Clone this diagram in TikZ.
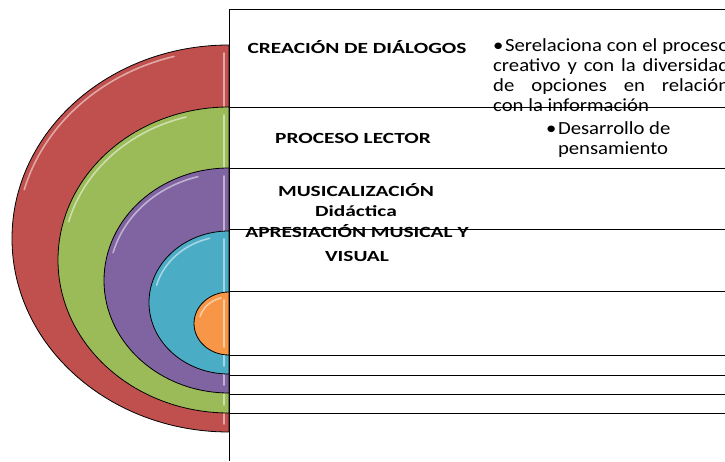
\documentclass[tikz,border=0pt]{standalone}
\usepackage{fontspec}
\setmainfont{Carlito}
\newfontfamily\headfont[FakeStretch=1.38]{Carlito}
\newfontfamily\notefont[FakeStretch=1.12]{Carlito}
\usepackage{xcolor}
\definecolor{ringred}{HTML}{C0504D}
\definecolor{ringgreen}{HTML}{9BBB59}
\definecolor{ringpurple}{HTML}{8064A2}
\definecolor{ringcyan}{HTML}{4BACC6}
\definecolor{ringorange}{HTML}{F79646}

\begin{document}
\begin{tikzpicture}[x=1pt,y=1pt,
    ring/.style={draw=black, line width=0.8pt},
    gloss/.style={draw=white, line width=1.6pt, opacity=0.5, line cap=round},
    rule/.style={draw=black, line width=0.9pt},
    title/.style={font=\headfont\bfseries\fontsize{15.5}{20}\selectfont, align=center, inner sep=0pt},
    note/.style={font=\notefont\fontsize{18.5}{20}\selectfont, inner sep=0pt}]
      % Variables
      \def \boxx  {229}
      \def \boxr  {725}
      \def \boxt  {452}

      \useasboundingbox (0,0) rectangle (725,461);

      % Rings
      \foreach \col/\cy/\rx/\ry in {ringred/222.5/217/193.5, ringgreen/201/171/153,
          ringpurple/180.5/125/112.5, ringcyan/158.5/80/71.5, ringorange/137.5/35/31.5}
      {
        \fill[\col, ring] (\boxx,\cy+\ry) arc[start angle=90, end angle=270, x radius=\rx, y radius=\ry] -- cycle;
        \draw[gloss] ({\boxx+(\rx-5)*cos(105)},{\cy+(\ry-5)*sin(105)})
          arc[start angle=105, end angle=165, x radius=\rx-5, y radius=\ry-5];
        \draw[gloss] (\boxx-5,\cy+\ry-8) -- (\boxx-5,\cy-\ry+8);
      }

      % Table
      \draw[rule] (\boxr,\boxt) -- (\boxx,\boxt) -- (\boxx,0);
      \foreach \ly in {354,293,232,170,106,86,67,48}
        \draw[rule] (\boxx,\ly) -- (\boxr,\ly);

      % Labels
      \node[title] (creacion) at (357,414) {CREACIÓN DE DIÁLOGOS};
      \node[title] (lector) at (353,323) {PROCESO LECTOR};
      \node[title] (musica) at (356,261) {MUSICALIZACIÓN\\Didáctica};
      \node[title, font=\headfont\bfseries\fontsize{15.5}{24}\selectfont] (apresia) at (357,218)
        {APRESIACIÓN MUSICAL Y\\VISUAL};

      % Notes
      \node[note, anchor=north west, text width=236, align=justify] (relaciona) at (493,423)
        {\hangindent=7pt\hangafter=1\textbullet\hspace{1.5pt}Serelaciona con el proceso\linebreak
         creativo y con la diversidad\linebreak de opciones en relación\linebreak con la información};
      \node[note, anchor=north west, align=left] (desarrollo) at (546,340)
        {\textbullet\hspace{1.5pt}Desarrollo de\\\phantom{\textbullet}\hspace{1.5pt}pensamiento};

    \end{tikzpicture}
\end{document}
